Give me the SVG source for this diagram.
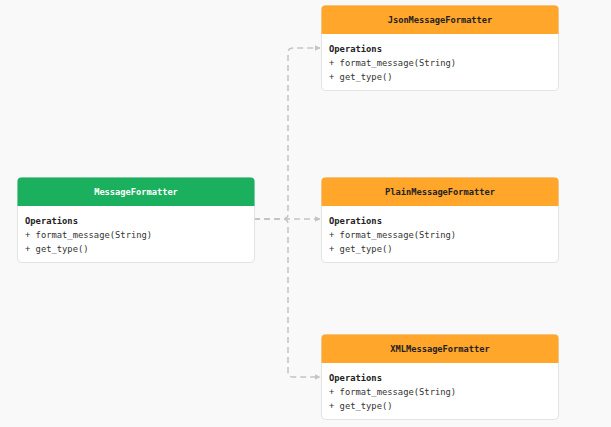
<svg xmlns="http://www.w3.org/2000/svg" width="611" height="427" viewBox="0 0 611 427">
<defs>
<style>
.box{fill:#ffffff;stroke:#e3e3e3;stroke-width:1}
.hg{fill:#1bb05e}
.ho{fill:#ffa62b}
.title{font-family:"DejaVu Sans Mono","Liberation Mono",monospace;font-size:8.7px;font-weight:bold;text-anchor:middle}
.tw{fill:#ffffff}
.tk{fill:#222222}
.sec{font-family:"DejaVu Sans Mono","Liberation Mono",monospace;font-size:8.8px;font-weight:bold;fill:#222222}
.op{font-family:"DejaVu Sans Mono","Liberation Mono",monospace;font-size:8.8px;fill:#333333}
.edge{fill:none;stroke:#c4c4c4;stroke-width:1.5;stroke-dasharray:6 4}
</style>
<marker id="arr" viewBox="0 0 10 10" refX="9" refY="5" markerWidth="6" markerHeight="6" markerUnits="userSpaceOnUse" orient="auto">
<path d="M0,0 L10,5 L0,10 z" fill="#c4c4c4"/>
</marker>
</defs>
<rect width="611" height="427" fill="#f9f9f9"/>
<g id="connectors">
<path class="edge" d="M254,219 L283,219 Q288,219 288,214 L288,53 Q288,48 293,48 L320,48" marker-end="url(#arr)"/>
<path class="edge" d="M254,219 L320,219" marker-end="url(#arr)"/>
<path class="edge" d="M254,219 L283,219 Q288,219 288,224 L288,372 Q288,377 293,377 L320,377" marker-end="url(#arr)"/>
</g>
<g id="MessageFormatter">
<rect class="box" x="17.5" y="177.5" width="237" height="85" rx="4"/>
<path class="hg" d="M21.5,177.5 H250.5 A4,4 0 0 1 254.5,181.5 V206 H17.5 V181.5 A4,4 0 0 1 21.5,177.5 Z"/>
<text class="title tw" x="136" y="195">MessageFormatter</text>
<text class="sec" x="25" y="224">Operations</text>
<text class="op" x="25" y="238">+ format_message(String)</text>
<text class="op" x="25" y="252">+ get_type()</text>
</g>
<g id="JsonMessageFormatter">
<rect class="box" x="321.5" y="5.5" width="237" height="85" rx="4"/>
<path class="ho" d="M325.5,5.5 H554.5 A4,4 0 0 1 558.5,9.5 V34 H321.5 V9.5 A4,4 0 0 1 325.5,5.5 Z"/>
<text class="title tk" x="440" y="23">JsonMessageFormatter</text>
<text class="sec" x="329" y="52">Operations</text>
<text class="op" x="329" y="66">+ format_message(String)</text>
<text class="op" x="329" y="80">+ get_type()</text>
</g>
<g id="PlainMessageFormatter">
<rect class="box" x="321.5" y="177.5" width="237" height="85" rx="4"/>
<path class="ho" d="M325.5,177.5 H554.5 A4,4 0 0 1 558.5,181.5 V206 H321.5 V181.5 A4,4 0 0 1 325.5,177.5 Z"/>
<text class="title tk" x="440" y="195">PlainMessageFormatter</text>
<text class="sec" x="329" y="224">Operations</text>
<text class="op" x="329" y="238">+ format_message(String)</text>
<text class="op" x="329" y="252">+ get_type()</text>
</g>
<g id="XMLMessageFormatter">
<rect class="box" x="321.5" y="334.5" width="237" height="85" rx="4"/>
<path class="ho" d="M325.5,334.5 H554.5 A4,4 0 0 1 558.5,338.5 V363 H321.5 V338.5 A4,4 0 0 1 325.5,334.5 Z"/>
<text class="title tk" x="440" y="352">XMLMessageFormatter</text>
<text class="sec" x="329" y="381">Operations</text>
<text class="op" x="329" y="395">+ format_message(String)</text>
<text class="op" x="329" y="409">+ get_type()</text>
</g>
</svg>
